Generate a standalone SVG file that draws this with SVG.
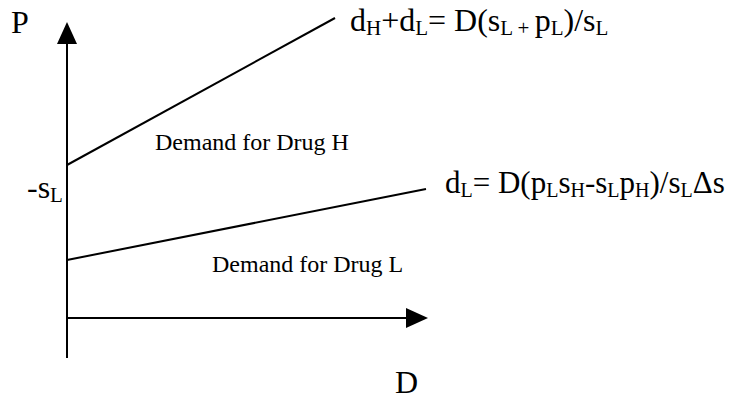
<svg xmlns="http://www.w3.org/2000/svg" width="732" height="399" viewBox="0 0 732 399">
<style>
text{font-family:"Liberation Serif","Times New Roman",serif;fill:#000}
.big{font-size:32px}
.sub{font-size:21px}
.f2{font-size:31px}
.f2 .sub{font-size:20px}
.lbl{font-size:24px}
.ln{stroke:#000;stroke-width:2;fill:none}
</style>
<rect width="732" height="399" fill="#fff"/>
<g id="connectors">
<line class="ln" x1="67" y1="358" x2="67" y2="40"/>
<polygon points="67,22 57,44 77,44" fill="#000"/>
<line class="ln" x1="67" y1="318" x2="408" y2="318"/>
<polygon points="428,318 406,308 406,328" fill="#000"/>
<line class="ln" x1="67" y1="165" x2="335" y2="18"/>
<line class="ln" x1="67" y1="260" x2="426" y2="189"/>
</g>
<g id="axisP"><text class="big" x="11" y="33">P</text></g>
<g id="axisD"><text class="big" x="395" y="393">D</text></g>
<g id="sL"><text class="big" x="27" y="198">-s<tspan class="sub" dy="4">L</tspan></text></g>
<g id="formula1"><text class="big" x="350" y="31">d<tspan class="sub" dy="4">H</tspan><tspan dy="-4">+d</tspan><tspan class="sub" dy="4">L</tspan><tspan dy="-4">= D(s</tspan><tspan class="sub" dy="4" xml:space="preserve">L + </tspan><tspan dy="-4">p</tspan><tspan class="sub" dy="4">L</tspan><tspan dy="-4">)/s</tspan><tspan class="sub" dy="4">L</tspan></text></g>
<g id="formula2"><text class="f2" x="445" y="193">d<tspan class="sub" dy="4">L</tspan><tspan dy="-4">= D(p</tspan><tspan class="sub" dy="4">L</tspan><tspan dy="-4">s</tspan><tspan class="sub" dy="4">H</tspan><tspan dy="-4">-s</tspan><tspan class="sub" dy="4">L</tspan><tspan dy="-4">p</tspan><tspan class="sub" dy="4">H</tspan><tspan dy="-4">)/s</tspan><tspan class="sub" dy="4">L</tspan><tspan dy="-4">Δs</tspan></text></g>
<g id="labelH"><text class="lbl" x="155" y="150">Demand for Drug H</text></g>
<g id="labelL"><text class="lbl" x="212" y="272">Demand for Drug L</text></g>
</svg>
